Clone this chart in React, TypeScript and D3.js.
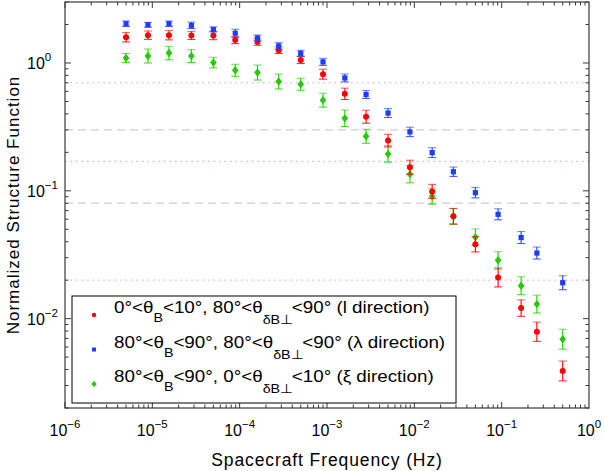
import * as d3 from "d3";
import { useEffect, useRef } from "react";

// spacecraft frequency (Hz)
const freq = [
  5e-6, 8.9e-6, 1.55e-5, 2.8e-5, 5e-5, 8.9e-5, 1.6e-4, 2.8e-4, 5e-4, 9e-4,
  1.6e-3, 2.8e-3, 5e-3, 8.9e-3, 1.6e-2, 2.8e-2, 5e-2, 9.1e-2, 0.167, 0.253, 0.5,
];

// l direction (red)
const redVals = [
  1.59, 1.65, 1.65, 1.64, 1.64, 1.51, 1.46, 1.26, 1.055, 0.817, 0.574, 0.38,
  0.247, 0.153, 0.099, 0.0632, 0.0382, 0.021, 0.0121, 0.0079, 0.0039,
];
const redErr = [
  0.088, 0.078, 0.088, 0.074, 0.078, 0.065, 0.061, 0.061, 0.065, 0.094, 0.107,
  0.124, 0.12, 0.134, 0.134, 0.15, 0.148, 0.186, 0.16, 0.19, 0.196,
];

// lambda direction (blue)
const blueVals = [
  2.03, 1.99, 2.03, 1.97, 1.83, 1.71, 1.57, 1.36, 1.19, 1.02, 0.764, 0.567,
  0.406, 0.289, 0.199, 0.141, 0.0967, 0.0655, 0.0431, 0.0326, 0.0191,
];
const blueErr = [
  0.05, 0.044, 0.05, 0.06, 0.046, 0.074, 0.055, 0.061, 0.055, 0.065, 0.074,
  0.074, 0.084, 0.088, 0.094, 0.088, 0.098, 0.104, 0.114, 0.114, 0.134,
];

// xi direction (green)
const greenVals = [
  1.094, 1.134, 1.196, 1.134, 1.007, 0.877, 0.842, 0.716, 0.682, 0.512, 0.369,
  0.267, 0.1945, 0.135, 0.0908, 0.0632, 0.0434, 0.0286, 0.0181, 0.013, 0.0069,
];
const greenErr = [
  0.084, 0.134, 0.128, 0.124, 0.1, 0.114, 0.144, 0.144, 0.114, 0.134, 0.16,
  0.134, 0.16, 0.169, 0.154, 0.154, 0.16, 0.169, 0.175, 0.175, 0.196,
];

const dottedLines = [0.7, 0.17, 0.02];
const dashedLines = [0.3, 0.08];

const xExps = [-6, -5, -4, -3, -2, -1, 0];
const yExps = [0, -1, -2];

const FONT = "'Liberation Sans', Arial, Helvetica, sans-serif";

export default function App() {
  const ref = useRef<SVGSVGElement>(null);

  useEffect(() => {
    if (!ref.current) return;
    const svg = d3.select(ref.current);
    svg.selectAll("*").remove();

    const left = 65,
      right = 589,
      top = 2,
      bottom = 408;

    const x = d3.scaleLog().domain([1e-6, 1]).range([left, right]);
    const y = d3.scaleLog().domain([0.002, 3]).range([bottom, top]);

    // reference lines
    dottedLines.forEach((v) => {
      svg
        .append("line")
        .attr("x1", left)
        .attr("x2", right)
        .attr("y1", y(v))
        .attr("y2", y(v))
        .attr("stroke", "#f39a9a")
        .attr("stroke-width", 1)
        .attr("stroke-dasharray", "1.5,4");
    });
    dashedLines.forEach((v) => {
      svg
        .append("line")
        .attr("x1", left)
        .attr("x2", right)
        .attr("y1", y(v))
        .attr("y2", y(v))
        .attr("stroke", "#cfcfcf")
        .attr("stroke-width", 1.2)
        .attr("stroke-dasharray", "8,5");
    });

    // axes box + ticks (inward, both sides)
    const axisColor = "#3a3a3a";
    const ticksG = svg.append("g").attr("stroke", axisColor).attr("stroke-width", 1);
    for (let e = -6; e < 0; e++) {
      for (let m = 1; m <= 9; m++) {
        const v = m * Math.pow(10, e);
        const len = m === 1 ? 6 : 3.5;
        const px = x(v);
        ticksG.append("line").attr("x1", px).attr("x2", px).attr("y1", bottom).attr("y2", bottom - len);
        ticksG.append("line").attr("x1", px).attr("x2", px).attr("y1", top).attr("y2", top + len);
      }
    }
    for (let e = -3; e <= 0; e++) {
      for (let m = 1; m <= 9; m++) {
        const v = m * Math.pow(10, e);
        if (v < 0.002 || v > 3) continue;
        const len = m === 1 ? 6 : 3.5;
        const py = y(v);
        ticksG.append("line").attr("x1", left).attr("x2", left + len).attr("y1", py).attr("y2", py);
        ticksG.append("line").attr("x1", right).attr("x2", right - len).attr("y1", py).attr("y2", py);
      }
    }
    svg
      .append("rect")
      .attr("x", left)
      .attr("y", top)
      .attr("width", right - left)
      .attr("height", bottom - top)
      .attr("fill", "none")
      .attr("stroke", axisColor)
      .attr("stroke-width", 1.2);

    // tick labels
    xExps.forEach((e) => {
      const t = svg
        .append("text")
        .attr("x", x(Math.pow(10, e)))
        .attr("y", 436)
        .attr("text-anchor", "middle")
        .attr("font-family", FONT)
        .attr("font-size", 16)
        .attr("fill", "#000");
      t.append("tspan").text("10");
      t.append("tspan")
        .attr("dy", -8)
        .attr("font-size", 11.5)
        .text(e < 0 ? "\u2212" + Math.abs(e) : String(e));
    });
    yExps.forEach((e) => {
      const t = svg
        .append("text")
        .attr("x", 27)
        .attr("y", y(Math.pow(10, e)) + 6)
        .attr("text-anchor", "start")
        .attr("font-family", FONT)
        .attr("font-size", 16)
        .attr("fill", "#000");
      t.append("tspan").text("10");
      t.append("tspan")
        .attr("dy", -8)
        .attr("font-size", 11.5)
        .text(e < 0 ? "\u2212" + Math.abs(e) : String(e));
    });

    // axis titles
    svg
      .append("text")
      .attr("x", (left + right) / 2)
      .attr("y", 466)
      .attr("text-anchor", "middle")
      .attr("font-family", FONT)
      .attr("font-size", 17.5)
      .attr("letter-spacing", 0.9)
      .text("Spacecraft Frequency (Hz)");
    svg
      .append("text")
      .attr("transform", `translate(19,${(top + bottom) / 2}) rotate(-90)`)
      .attr("text-anchor", "middle")
      .attr("font-family", FONT)
      .attr("font-size", 17)
      .attr("letter-spacing", 1)
      .text("Normalized Structure Function");

    const series = [
      { vals: greenVals, err: greenErr, color: "#22cc00", shape: "diamond" },
      { vals: redVals, err: redErr, color: "#ff0000", shape: "circle" },
      { vals: blueVals, err: blueErr, color: "#1e3cff", shape: "square" },
    ];

    const drawMarker = (
      g: d3.Selection<SVGGElement, unknown, null, undefined>,
      shape: string,
      cx: number,
      cy: number,
      color: string
    ) => {
      if (shape === "circle") {
        g.append("circle").attr("cx", cx).attr("cy", cy).attr("r", 3).attr("fill", color);
      } else if (shape === "square") {
        g.append("rect")
          .attr("x", cx - 2.6)
          .attr("y", cy - 2.6)
          .attr("width", 5.2)
          .attr("height", 5.2)
          .attr("fill", color);
      } else {
        g.append("path")
          .attr("d", `M${cx},${cy - 4.2}L${cx + 3.3},${cy}L${cx},${cy + 4.2}L${cx - 3.3},${cy}Z`)
          .attr("fill", color);
      }
    };

    series.forEach((s) => {
      const g = svg.append("g");
      s.vals.forEach((v, i) => {
        const cx = x(freq[i]);
        const cy = y(v);
        const yTop = y(v * (1 + s.err[i]));
        const yBot = y(v / (1 + s.err[i]));
        const eb = g.append("g").attr("stroke", s.color).attr("stroke-width", 1.1);
        eb.append("line").attr("x1", cx).attr("x2", cx).attr("y1", yTop).attr("y2", yBot);
        eb.append("line")
          .attr("x1", cx - 4)
          .attr("x2", cx + 4)
          .attr("y1", yTop)
          .attr("y2", yTop)
          .attr("stroke-opacity", 0.6);
        eb.append("line")
          .attr("x1", cx - 4)
          .attr("x2", cx + 4)
          .attr("y1", yBot)
          .attr("y2", yBot)
          .attr("stroke-opacity", 0.8);
        drawMarker(g, s.shape, cx, cy, s.color);
      });
    });

    // legend
    const lg = svg.append("g");
    lg.append("rect")
      .attr("x", 72)
      .attr("y", 296)
      .attr("width", 384)
      .attr("height", 107)
      .attr("fill", "#fff")
      .attr("stroke", "#000")
      .attr("stroke-width", 1);
    const entries = [
      { color: "#ff0000", shape: "circle", a: "0°<θ", b: "<10°, 80°<θ", c: "<90° (l direction)" },
      { color: "#1e3cff", shape: "square", a: "80°<θ", b: "<90°, 80°<θ", c: "<90° (λ direction)" },
      { color: "#22cc00", shape: "diamond", a: "80°<θ", b: "<90°, 0°<θ", c: "<10° (ξ direction)" },
    ];
    entries.forEach((en, i) => {
      const cy = 315 + i * 34.5;
      const mg = lg.append("g");
      if (en.shape === "circle") {
        mg.append("circle").attr("cx", 94).attr("cy", cy).attr("r", 2.2).attr("fill", en.color);
      } else if (en.shape === "square") {
        mg.append("rect").attr("x", 92).attr("y", cy - 2).attr("width", 4).attr("height", 4).attr("fill", en.color);
      } else {
        mg.append("path")
          .attr("d", `M94,${cy - 3.2}L96.6,${cy}L94,${cy + 3.2}L91.4,${cy}Z`)
          .attr("fill", en.color);
      }
      const t = lg
        .append("text")
        .attr("transform", `translate(114,${cy - 2}) scale(1.14,1)`)
        .attr("font-family", FONT)
        .attr("font-size", 16.5)
        .attr("fill", "#000");
      t.append("tspan").text(en.a);
      t.append("tspan").attr("dy", 9).attr("font-size", 12.5).text("B");
      t.append("tspan").attr("dy", -9).text(en.b);
      t.append("tspan").attr("dy", 11).attr("font-size", 12.5).text("δB⊥");
      t.append("tspan").attr("dy", -11).text(en.c);
    });
  }, []);

  return (
    <svg
      ref={ref}
      width={604}
      height={471}
      style={{ position: "absolute", left: 0, top: 0, background: "#fff" }}
    ></svg>
  );
}
